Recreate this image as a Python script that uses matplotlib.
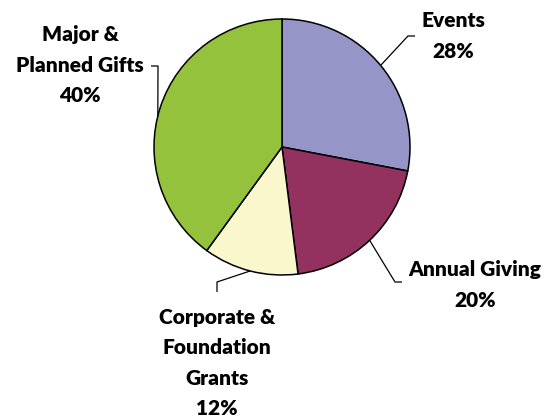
import numpy as np
import matplotlib
matplotlib.use("Agg")
import matplotlib.pyplot as plt

# ── data ──
categories = ["Events", "Annual Giving", "Corporate &\nFoundation\nGrants", "Major &\nPlanned Gifts"]
shares     = [28, 20, 12, 40]
colors     = ["#9695C8", "#93325F", "#FAF7CD", "#95C23D"]

# ── layout (pixel space, y measured from top) ──
W, H = 555, 420
CX, CY, R = 282, 147, 128
# per label: angle (deg) where the leader meets the rim, elbow point, end point, text centre
leaders = [
    (39.6,  (408, 36),  (415, 36),  (453, 36)),
    (-46.8, (395, 282), (402, 282), (475, 285)),
    (-104.4, (217, 282), (217, 292), (217, 363)),
    (166.0, (158, 66),  (151, 66),  (80, 65)),
]

plt.rcParams["font.family"] = ["Lato", "DejaVu Sans"]

fig = plt.figure(figsize=(W / 100, H / 100), dpi=100, facecolor="white")
ax = fig.add_axes([0, 0, 1, 1])

ax.pie(shares, colors=colors, startangle=90, counterclock=False,
       center=(CX, H - CY), radius=R,
       wedgeprops=dict(edgecolor="black", linewidth=1.1))

for cat, val, (ang, elbow, end, txt) in zip(categories, shares, leaders):
    a = np.deg2rad(ang)
    x0, y0 = CX + R * np.cos(a), (H - CY) + R * np.sin(a)
    ax.plot([x0, elbow[0], end[0]], [y0, H - elbow[1], H - end[1]],
            color="black", lw=0.9, solid_capstyle="butt")
    ax.text(txt[0], H - txt[1], f"{cat}\n{val}%", ha="center", va="center",
            fontsize=15, fontweight="heavy", linespacing=1.72, color="black")

ax.set_xlim(0, W)
ax.set_ylim(0, H)
ax.set_aspect("equal")
ax.axis("off")

fig.savefig("out.png", dpi=100, facecolor="white")
